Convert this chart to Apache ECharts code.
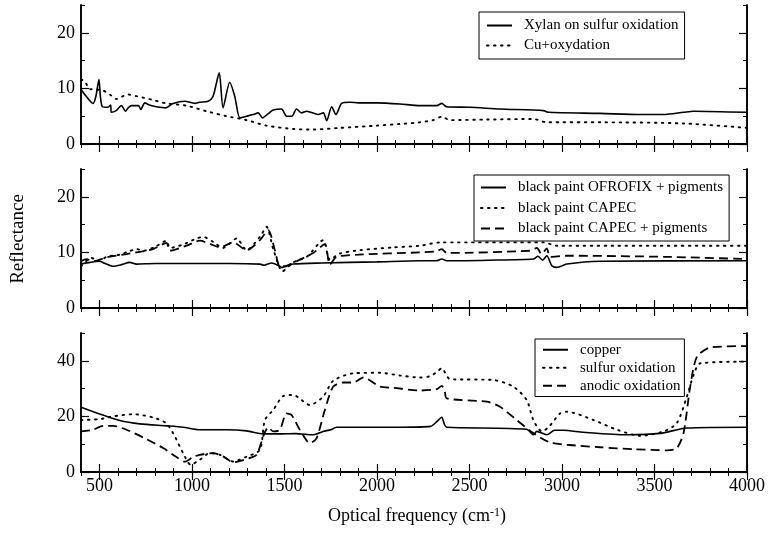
<!DOCTYPE html>
<html>
<head>
<meta charset="utf-8">
<script src="https://cdn.jsdelivr.net/npm/echarts@6/dist/echarts.min.js"></script>
<style>html,body{margin:0;padding:0;background:#fff}#c{width:771px;height:534px}</style>
</head>
<body>
<div id="c"></div>
<script>
// ---------- data ----------
const xMajorTicks = [500, 1000, 1500, 2000, 2500, 3000, 3500, 4000];
const yTicksTopMid = [0, 10, 20];
const yTicksBottom = [0, 20, 40];

const names1 = ['Xylan on sulfur oxidation', 'Cu+oxydation'];
const names2 = ['black paint OFROFIX + pigments', 'black paint CAPEC', 'black paint CAPEC + pigments'];
const names3 = ['copper', 'sulfur oxidation', 'anodic oxidation'];

const xylan = [[400,9.8],[430,8.5],[465,7.3],[480,8.5],[497,11.6],[505,8.5],[516,6.7],[545,6.6],[560,7.0],[564,5.7],[590,6.0],[618,6.9],[640,5.9],[655,6.5],[673,6.9],[700,6.9],[712,6.9],[723,6.2],[745,7.4],[770,7.0],[808,6.7],[858,6.5],[898,7.3],[961,7.7],[1015,7.3],[1040,7.5],[1087,7.7],[1114,8.6],[1147,12.8],[1168,6.5],[1204,11.1],[1231,8.6],[1259,4.7],[1295,5.0],[1330,5.3],[1358,5.6],[1381,4.7],[1410,5.4],[1439,6.1],[1484,6.3],[1511,5.0],[1540,5.0],[1565,6.3],[1592,5.6],[1620,5.9],[1682,5.3],[1710,5.6],[1728,4.2],[1755,6.7],[1778,5.3],[1809,7.3],[1854,7.5],[1900,7.4],[2000,7.4],[2124,7.2],[2232,6.9],[2323,6.9],[2350,7.3],[2377,6.7],[2500,6.6],[2665,6.3],[2900,6.0],[2927,5.7],[3206,5.5],[3423,5.3],[3549,5.3],[3657,5.7],[3711,5.9],[4000,5.7]];
const cuOx = [[400,11.6],[420,11.3],[447,9.9],[483,9.8],[520,9.6],[560,8.8],[591,8.1],[620,8.5],[654,8.9],[700,8.6],[780,8.0],[862,7.3],[970,6.9],[1078,5.9],[1187,5.0],[1295,4.3],[1403,3.3],[1547,2.7],[1655,2.6],[1800,2.9],[1998,3.3],[2124,3.6],[2232,3.9],[2304,4.3],[2350,4.9],[2395,4.3],[2600,4.4],[2845,4.5],[2918,3.9],[3206,3.9],[3657,3.7],[4000,2.9]];

const ofrofix = [[400,7.9],[450,8.2],[501,8.4],[530,8.0],[573,7.5],[620,7.8],[663,8.2],[700,7.9],[800,8.0],[1000,8.0],[1200,8.0],[1367,7.9],[1390,7.7],[1430,8.1],[1470,7.6],[1484,7.3],[1547,7.9],[1700,8.1],[2000,8.3],[2232,8.5],[2320,8.5],[2350,8.8],[2377,8.5],[2600,8.6],[2845,8.8],[2870,9.3],[2895,8.6],[2918,9.4],[2945,7.6],[2972,7.3],[3026,7.9],[3206,8.4],[4000,8.5]];
const capec = [[400,7.5],[430,8.5],[456,9.0],[501,8.4],[537,9.2],[609,9.6],[660,10.2],[700,10.6],[740,10.3],[800,11.0],[862,12.1],[880,10.8],[950,11.4],[1024,12.5],[1060,12.8],[1114,11.9],[1168,10.8],[1241,12.5],[1295,10.4],[1367,12.8],[1403,14.6],[1440,10.5],[1490,6.6],[1547,8.2],[1620,9.2],[1709,12.2],[1745,8.7],[1800,9.8],[1908,10.4],[2088,10.9],[2232,11.2],[2341,11.8],[2900,11.8],[2972,11.2],[4000,11.2]];
const capecPig = [[400,8.4],[430,8.8],[465,8.4],[501,8.7],[537,9.1],[646,9.7],[718,10.1],[790,10.6],[862,11.7],[880,10.3],[970,11.2],[1042,12.1],[1100,11.5],[1150,10.9],[1223,11.8],[1295,10.4],[1367,12.2],[1412,14.0],[1448,10.4],[1475,7.5],[1511,7.6],[1583,8.7],[1655,9.9],[1718,11.5],[1745,7.8],[1782,9.2],[1900,9.6],[2232,10.0],[2320,10.2],[2350,10.6],[2377,9.9],[2827,10.3],[2864,10.8],[2890,9.7],[2918,10.7],[2936,9.2],[3026,9.4],[3567,9.2],[4000,8.8]];

const copper = [[400,23.3],[501,20.9],[610,18.5],[718,17.3],[862,16.6],[952,16.1],[1042,15.2],[1187,15.2],[1295,14.8],[1385,13.7],[1475,13.7],[1560,13.8],[1655,13.4],[1709,14.6],[1750,15.2],[1782,16.1],[1900,16.1],[2124,16.1],[2290,16.4],[2323,18.1],[2350,19.7],[2365,17.0],[2377,16.1],[2809,15.4],[2845,13.4],[2864,14.6],[2918,13.4],[2960,15.0],[3008,15.0],[3116,14.3],[3350,13.4],[3531,13.9],[3675,15.8],[4000,16.1]];
const sulfurOx = [[400,18.7],[501,19.0],[573,20.0],[682,20.8],[790,19.6],[862,17.5],[907,12.8],[952,6.8],[993,2.6],[1042,4.4],[1096,6.8],[1150,6.2],[1222,3.8],[1295,5.5],[1367,8.0],[1394,18.7],[1439,22.3],[1493,27.3],[1547,27.7],[1637,24.1],[1709,27.1],[1763,32.8],[1872,35.5],[2016,35.7],[2124,34.7],[2232,34.0],[2290,34.5],[2323,36.0],[2350,37.3],[2395,33.4],[2629,33.1],[2737,30.7],[2809,25.9],[2845,18.7],[2891,14.6],[2927,16.1],[2990,21.1],[3026,21.7],[3170,18.7],[3297,15.2],[3423,13.0],[3549,14.6],[3621,17.6],[3675,27.1],[3711,34.9],[3747,39.1],[4000,39.7]];
const anodicOx = [[400,14.6],[465,15.2],[519,16.6],[573,16.6],[646,15.2],[754,11.8],[844,8.6],[916,5.4],[961,3.7],[1006,5.4],[1042,6.2],[1114,6.8],[1168,5.6],[1223,3.5],[1295,4.7],[1349,6.2],[1385,12.8],[1412,16.1],[1439,14.6],[1475,15.2],[1511,21.1],[1538,20.5],[1583,15.2],[1637,10.4],[1673,12.1],[1718,22.3],[1763,30.7],[1818,32.2],[1872,32.2],[1926,34.0],[2016,30.7],[2088,30.3],[2232,29.3],[2323,29.8],[2350,31.0],[2365,29.5],[2377,26.5],[2593,25.3],[2665,23.5],[2755,18.7],[2845,14.0],[2936,10.6],[3026,9.8],[3206,8.9],[3387,8.2],[3567,7.8],[3621,8.6],[3657,14.0],[3693,30.7],[3729,41.4],[3801,44.8],[4000,45.3]];

// ---------- layout ----------
const FONT = 'Liberation Serif';
const grids = [
  {left: 81, right: 24, top: 5, height: 139},
  {left: 81, right: 24, top: 169, height: 139},
  {left: 81, right: 24, top: 333, height: 139}
];
const yMax = [25, 25, 50];
const yMinorInt = [5, 5, 10];
const yMajor = [yTicksTopMid, yTicksTopMid, yTicksBottom];

const axLine = {show: true, lineStyle: {color: '#000', width: 1.6}};
const plain = v => String(v);
const xAxes = [], yAxes = [];
grids.forEach((g, gi) => {
  ['bottom', 'top'].forEach(pos => {
    xAxes.push({type: 'value', gridIndex: gi, position: pos, min: 400, max: 4000, interval: 100,
      axisLine: axLine, splitLine: {show: false},
      axisTick: {inside: true, length: 4, lineStyle: {color: '#000', width: 1}},
      axisLabel: {show: false}});
    xAxes.push({type: 'value', gridIndex: gi, position: pos, min: 400, max: 4000, interval: 100,
      axisLine: axLine, splitLine: {show: false},
      axisTick: {inside: true, length: 8, customValues: xMajorTicks, lineStyle: {color: '#000', width: 1.2}},
      axisLabel: {show: gi === 2 && pos === 'bottom', customValues: xMajorTicks, formatter: plain, color: '#000',
        fontFamily: FONT, fontSize: 18, margin: 5}});
  });
  ['left', 'right'].forEach(pos => {
    yAxes.push({type: 'value', gridIndex: gi, position: pos, min: 0, max: yMax[gi], interval: yMinorInt[gi],
      axisLine: axLine, splitLine: {show: false},
      axisTick: {inside: true, length: 4, lineStyle: {color: '#000', width: 1}},
      axisLabel: {show: false}});
    yAxes.push({type: 'value', gridIndex: gi, position: pos, min: 0, max: yMax[gi], interval: yMinorInt[gi],
      axisLine: axLine, splitLine: {show: false},
      axisTick: {inside: true, length: 8, customValues: yMajor[gi], lineStyle: {color: '#000', width: 1.2}},
      axisLabel: {show: pos === 'left', customValues: yMajor[gi], formatter: plain, color: '#000',
        fontFamily: FONT, fontSize: 18, margin: 6}});
  });
});

const styles = {
  solid: {color: '#000', width: 1.6, type: 'solid'},
  dotted: {color: '#000', width: 1.9, type: [1.5, 5.5], cap: 'round'},
  dashed: {color: '#000', width: 1.8, type: [9, 5]}
};
function ser(name, data, gi, st) {
  return {name, type: 'line', data, xAxisIndex: gi * 4 + 1, yAxisIndex: gi * 4 + 1,
    symbol: 'none', smooth: 0.25, lineStyle: styles[st], itemStyle: {color: '#000'},
    silent: true, animation: false, z: 5};
}
const series = [
  ser(names1[0], xylan, 0, 'solid'),
  ser(names1[1], cuOx, 0, 'dotted'),
  ser(names2[0], ofrofix, 1, 'solid'),
  ser(names2[1], capec, 1, 'dotted'),
  ser(names2[2], capecPig, 1, 'dashed'),
  ser(names3[0], copper, 2, 'solid'),
  ser(names3[1], sulfurOx, 2, 'dotted'),
  ser(names3[2], anodicOx, 2, 'dashed')
];

function legend(names, left, top, lh, gap, pad) {
  return {data: names, orient: 'vertical', left, top, itemWidth: 25, itemHeight: 10, itemGap: gap,
    padding: pad, borderColor: '#000', borderWidth: 1, backgroundColor: '#fff', borderRadius: 0,
    selectedMode: false,
    itemStyle: {opacity: 0, borderWidth: 0},
    textStyle: {fontFamily: FONT, fontSize: 15, lineHeight: lh, color: '#000', padding: [0, 0, 0, 7]}};
}

const option = {
  animation: false,
  backgroundColor: '#fff',
  grid: grids,
  xAxis: xAxes,
  yAxis: yAxes,
  legend: [
    legend(names1, 479, 12, 17, 3, [5, 6, 5, 7]),
    legend(names2, 474, 175, 17, 3.5, [4, 6, 4, 6]),
    legend(names3, 535, 339, 15.5, 2.5, [3, 4, 3, 7])
  ],
  series,
  graphic: [
    {type: 'text', x: 18, y: 239, rotation: Math.PI / 2,
      style: {text: 'Reflectance', fontFamily: FONT, fontSize: 19, fill: '#000', align: 'center', verticalAlign: 'middle'}},
    {type: 'text', x: 417, y: 516,
      style: {text: 'Optical frequency (cm{sup|-1})', fontFamily: FONT, fontSize: 18, fill: '#000',
        align: 'center', verticalAlign: 'middle',
        rich: {sup: {fontFamily: FONT, fontSize: 12, fill: '#000', verticalAlign: 'top', padding: [0, 0, 6, 0]}}}}
  ]
};
echarts.init(document.getElementById('c'), null, {renderer: 'canvas'}).setOption(option);
</script>
</body>
</html>
